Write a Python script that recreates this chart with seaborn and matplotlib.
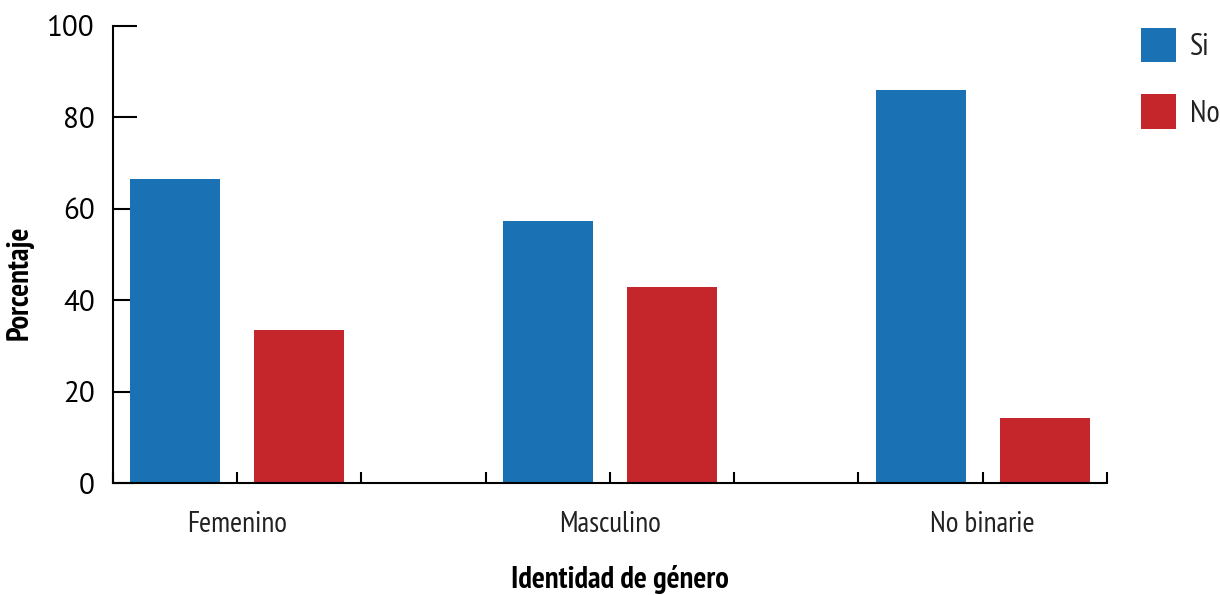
import matplotlib
matplotlib.use("Agg")
import matplotlib.pyplot as plt
import seaborn as sns
import pandas as pd
from matplotlib.patches import Patch

categories = ["Femenino", "Masculino", "No binarie"]
si_values = [66.5, 57.3, 85.9]
no_values = [33.5, 42.8, 14.2]
series_names = ["Si", "No"]
colors = {"Si": "#1A72B4", "No": "#C4262C"}
y_ticks = [0, 20, 40, 60, 80, 100]

df = pd.DataFrame({
    "cat": categories * 2,
    "resp": [series_names[0]] * 3 + [series_names[1]] * 3,
    "val": si_values + no_values,
})

sns.set_style("white")
narrow = ["PT Sans Narrow", "Fira Sans Condensed", "IBM Plex Sans Condensed", "DejaVu Sans"]
regular = ["PT Sans", "Fira Sans", "Open Sans", "DejaVu Sans"]
plt.rcParams["font.family"] = narrow

fig = plt.figure(figsize=(12.2, 5.95), dpi=100)
ax = fig.add_axes([113 / 1220, 1 - 483 / 595, (1107 - 113) / 1220, (483 - 26) / 595])

sns.barplot(data=df, x="cat", y="val", hue="resp", order=categories,
            hue_order=series_names, palette=colors, width=0.667, gap=0.275,
            saturation=1, ax=ax, legend=False, errorbar=None,
            edgecolor="none", linewidth=0)

ax.set_xlim(-1 / 3, 7 / 3)
ax.set_ylim(0, 100)
ax.set_yticks(y_ticks)
ax.set_yticklabels([str(t) for t in y_ticks], family=regular, fontsize=21)
ax.set_xticks([0, 1, 2])
ax.set_xticklabels(categories, fontsize=21)
ax.set_xticks([-1 / 3, 1 / 3, 2 / 3, 4 / 3, 5 / 3, 7 / 3], minor=True)

ax.tick_params(axis="y", left=True, direction="in", length=17, width=1.5, pad=13, colors="black")
ax.tick_params(axis="x", which="both", bottom=True, direction="in", length=8, width=1.5, pad=20, colors="black")
ax.tick_params(axis="x", labelcolor="#222222")

for s in ["top", "right"]:
    ax.spines[s].set_visible(False)
for s in ["left", "bottom"]:
    ax.spines[s].set_linewidth(1.5)
    ax.spines[s].set_color("black")

ax.set_xlabel("Identidad de género", fontsize=22, fontweight="bold", color="black")
ax.xaxis.set_label_coords(0.51, -0.18)
ax.set_ylabel("Porcentaje", fontsize=22, fontweight="bold", color="black")
ax.yaxis.set_label_coords(-0.0795, 0.4376)

handles = [Patch(facecolor=colors[n], edgecolor="none", label=n) for n in series_names]
fig.legend(handles=handles, loc="upper left", bbox_to_anchor=(1141 / 1220, 1 - 28 / 595),
           frameon=False, fontsize=22, handlelength=1.15, handleheight=1.35,
           handletextpad=0.45, labelspacing=1.05, borderaxespad=0, borderpad=0,
           labelcolor="#222222")

fig.savefig("out.png", dpi=100)
